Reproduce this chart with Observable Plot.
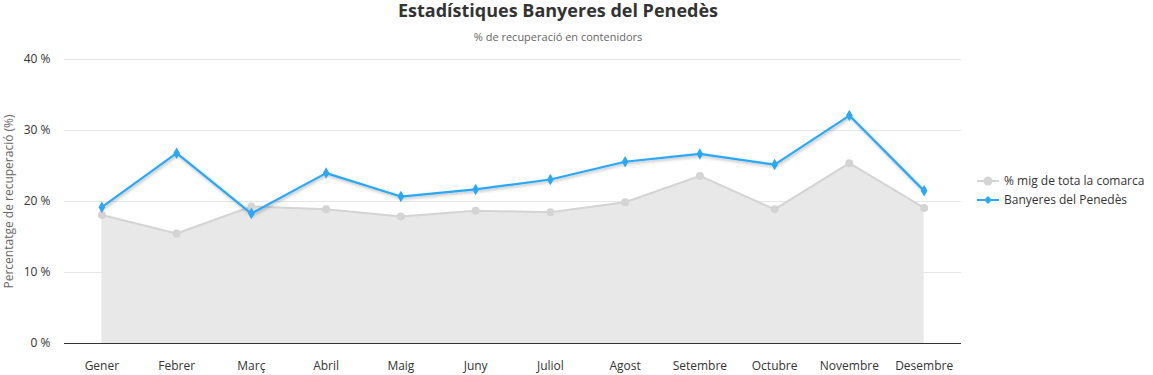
<!DOCTYPE html>
<html><head><meta charset="utf-8">
<script src="https://cdn.jsdelivr.net/npm/d3@7"></script>
<script src="https://cdn.jsdelivr.net/npm/@observablehq/plot@0.6"></script>
<style>
body{margin:0;background:#fff;font-family:"Open Sans","Noto Sans",sans-serif;}
#wrap{position:relative;width:1153px;height:375px;}
#hdr{position:absolute;left:0;top:0;width:1116px;text-align:center;}
#title{font-size:18px;font-weight:bold;color:#333;margin-top:-2px;line-height:25px;}
#sub{font-size:11px;color:#666;margin-top:6px;line-height:15px;}
#chart{position:absolute;left:0;top:50px;}
#legend{position:absolute;left:977px;top:171px;font-size:12px;color:#333;}
.li{display:flex;align-items:center;height:19px;}
.li svg{margin-right:5px;}
</style></head>
<body>
<div id="wrap">
<div id="hdr"><div id="title"></div><div id="sub"></div></div>
<div id="chart"></div>
<div id="legend"></div>
</div>
<script>
const months = ["Gener","Febrer","Març","Abril","Maig","Juny","Juliol","Agost","Setembre","Octubre","Novembre","Desembre"];
const comarca = [18.1,15.5,19.3,18.9,17.9,18.7,18.5,19.9,23.6,18.9,25.4,19.1];
const banyeres = [19.2,26.8,18.3,24.0,20.7,21.7,23.1,25.6,26.7,25.2,32.1,21.5];
const yTicks = [0,10,20,30,40];
const seriesNames = ["% mig de tota la comarca","Banyeres del Penedès"];
const titleText = "Estadístiques Banyeres del Penedès";
const subtitleText = "% de recuperació en contenidors";
const yLabel = "Percentatge de recuperació (%)";

document.getElementById("title").textContent = titleText;
document.getElementById("sub").textContent = subtitleText;

const grayC = "#d4d4d4", blueC = "#2aa8f5";
const dataC = months.map((m,i)=>({m, v: comarca[i]}));
const dataB = months.map((m,i)=>({m, v: banyeres[i]}));

const plot = Plot.plot({
  width: 1153, height: 325,
  marginLeft: 64, marginRight: 192, marginTop: 9, marginBottom: 32,
  style: {fontFamily: '"Open Sans","Noto Sans",sans-serif', fontSize: "12px", color: "#333", background: "transparent"},
  x: {type: "point", domain: months, padding: 0.5, round: false, label: null},
  y: {domain: [0,40], ticks: yTicks, label: null},
  marks: [
    Plot.gridY(yTicks, {stroke: "#e6e6e6", strokeOpacity: 1}),
    Plot.areaY(dataC, {x: "m", y: "v", fill: "#e8e8e8", fillOpacity: 1}),
    Plot.lineY(dataC, {x: "m", y: "v", stroke: grayC, strokeWidth: 2}),
    Plot.dot(dataC, {x: "m", y: "v", r: 4, fill: grayC, stroke: null}),
    Plot.lineY(dataB, {x: "m", y: "v", stroke: blueC, strokeWidth: 2.2}),
    Plot.dot(dataB, {x: "m", y: "v", r: 3.5, symbol: "diamond", fill: blueC, stroke: null}),
    Plot.ruleY([0], {stroke: "#333", strokeWidth: 1}),
    Plot.axisY(yTicks, {tickSize: 0, tickPadding: 14, tickFormat: d => d + " %", fill: "#333", fontSize: 12}),
    Plot.axisX({tickSize: 0, tickPadding: 18, fill: "#333", fontSize: 12}),
    Plot.text([yLabel], {frameAnchor: "left", dx: -55, rotate: -90, fill: "#666", fontSize: 12, textAnchor: "middle"})
  ]
});
document.getElementById("chart").appendChild(plot);

// drop shadow on the blue series
const svg = d3.select(plot);
svg.insert("defs", ":first-child").html('<filter id="sh" x="-10%" y="-20%" width="120%" height="140%"><feDropShadow dx="1" dy="1.5" stdDeviation="1.5" flood-color="#000" flood-opacity="0.3"/></filter>');
const lines = plot.querySelectorAll('g[aria-label="line"]');
if (lines.length > 1) lines[1].setAttribute("filter", "url(#sh)");

// legend
const lg = document.getElementById("legend");
lg.innerHTML =
 `<div class="li"><svg width="22" height="12"><line x1="0" y1="6" x2="22" y2="6" stroke="${grayC}" stroke-width="2"/><circle cx="11" cy="6" r="4.5" fill="${grayC}"/></svg>${seriesNames[0]}</div>` +
 `<div class="li"><svg width="22" height="12"><line x1="0" y1="6" x2="22" y2="6" stroke="${blueC}" stroke-width="2"/><path d="M11 2L15 6L11 10L7 6Z" fill="${blueC}"/></svg>${seriesNames[1]}</div>`;
</script>
</body></html>
